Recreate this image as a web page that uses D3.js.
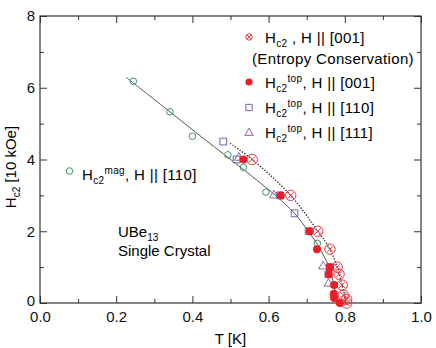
<!DOCTYPE html>
<html>
<head>
<meta charset="utf-8">
<script src="https://cdn.jsdelivr.net/npm/d3@7"></script>
<style>
  body { margin: 0; background: #fff; }
  svg { display: block; font-family: "Liberation Sans", Arial, sans-serif; }
</style>
</head>
<body>
<div id="chart"></div>
<script>
// tick values
const xMajor = [0, 0.2, 0.4, 0.6, 0.8, 1.0];
const xMinor = [0.1, 0.3, 0.5, 0.7, 0.9];
const yMajor = [0, 2, 4, 6, 8];
const yMinor = [1, 3, 5, 7];

// [T (K), Hc2 (10 kOe)]
const magH110 = [[0.245, 6.18], [0.341, 5.33], [0.400, 4.65], [0.493, 4.13], [0.534, 3.78], [0.593, 3.09], [0.728, 1.66]];
const entropyH001 = [[0.557, 4.00], [0.658, 3.00], [0.729, 2.00], [0.761, 1.50], [0.780, 1.00], [0.785, 0.80],
                     [0.793, 0.50], [0.796, 0.22], [0.805, 0.10], [0.805, 0.00]];
const topH001 = [[0.534, 4.00], [0.632, 3.00], [0.708, 2.00], [0.727, 1.50], [0.761, 1.00], [0.758, 0.80],
                 [0.772, 0.50], [0.771, 0.26], [0.772, 0.14], [0.787, 0.00]];
const topH110 = [[0.481, 4.50], [0.516, 4.00], [0.630, 3.00], [0.668, 2.50], [0.705, 2.00], [0.761, 1.00], [0.757, 0.80]];
const topH111 = [[0.522, 4.05], [0.614, 3.00], [0.743, 1.02], [0.757, 0.54]];

// guide curves
const solidCurve = [[0.226, 6.29], [0.341, 5.33], [0.430, 4.58], [0.534, 3.72], [0.620, 2.98], [0.668, 2.50],
                    [0.704, 2.00], [0.728, 1.64], [0.748, 1.25], [0.762, 0.92], [0.771, 0.50], [0.776, 0.20], [0.778, 0.00]];
const dottedCurve = [[0.499, 4.45], [0.557, 4.00], [0.658, 3.00], [0.729, 2.00], [0.761, 1.50], [0.780, 1.00],
                     [0.793, 0.50], [0.800, 0.20], [0.804, 0.00]];

const W = 436, H = 348;
const x = d3.scaleLinear().domain([0, 1]).range([40, 421]);
const y = d3.scaleLinear().domain([0, 8]).range([303, 16]);

const red = "#ee1c25", redOpen = "#f0353d", sqCol = "#6b64ac", triCol = "#9561a8", green = "#3d9466";

const svg = d3.select("#chart").append("svg")
    .attr("width", W)
    .attr("height", H);

// axes (ticks pointing inward, labels only on left/bottom)
function addAxis(axisFn, values, size, transform, labels) {
    const g = svg.append("g")
        .attr("transform", transform)
        .call(axisFn.tickValues(values).tickSizeInner(-size).tickSizeOuter(0)
            .tickFormat(labels || (() => "")));
    g.select(".domain").remove();
    g.selectAll("line").attr("stroke", "#333").attr("stroke-width", 1);
    g.selectAll("text").attr("fill", "#111").style("font-size", "15px");
    return g;
}

addAxis(d3.axisBottom(x).tickPadding(8.5), xMajor, 7, `translate(0,${y(0)})`, d3.format(".1f"));
addAxis(d3.axisBottom(x), xMinor, 4, `translate(0,${y(0)})`);
addAxis(d3.axisTop(x), xMajor, 7, `translate(0,${y(8)})`);
addAxis(d3.axisTop(x), xMinor, 4, `translate(0,${y(8)})`);
const left = addAxis(d3.axisLeft(y).tickPadding(5), yMajor, 7, `translate(${x(0)},0)`, d3.format("d"));
// lift the "0" a touch so it clears the "0.0" below it
left.selectAll(".tick text").filter(d => d === 0).attr("y", -2);
addAxis(d3.axisLeft(y), yMinor, 4, `translate(${x(0)},0)`);
addAxis(d3.axisRight(y), yMajor, 7, `translate(${x(1)},0)`);
addAxis(d3.axisRight(y), yMinor, 4, `translate(${x(1)},0)`);

svg.append("rect")
    .attr("x", x(0)).attr("y", y(8))
    .attr("width", x(1) - x(0)).attr("height", y(0) - y(8))
    .attr("fill", "none").attr("stroke", "#333").attr("stroke-width", 1.2);

// axis titles
svg.append("text")
    .attr("x", (x(0) + x(1)) / 2).attr("y", 343.5)
    .attr("text-anchor", "middle")
    .style("font-size", "15px")
    .text("T [K]");

const yTitle = svg.append("text")
    .attr("transform", "translate(15.5,167) rotate(-90)")
    .attr("text-anchor", "middle")
    .style("font-size", "15px");
yTitle.append("tspan").text("H");
yTitle.append("tspan").attr("dy", 4).style("font-size", "10px").text("c2");
yTitle.append("tspan").attr("dy", -4).text(" [10 kOe]");

// curves
const line = d3.line().x(d => x(d[0])).y(d => y(d[1])).curve(d3.curveCatmullRom);
svg.append("path").datum(solidCurve)
    .attr("d", line).attr("fill", "none").attr("stroke", "#555").attr("stroke-width", 1);
svg.append("path").datum(dottedCurve)
    .attr("d", line).attr("fill", "none").attr("stroke", "#222").attr("stroke-width", 1.3)
    .attr("stroke-dasharray", "1.3,1.6");

// marker painters
function openCircle(g, cx, cy, r, col) {
    g.append("circle").attr("cx", cx).attr("cy", cy).attr("r", r)
        .attr("fill", "none").attr("stroke", col).attr("stroke-width", 1);
}
function crossCircle(g, cx, cy, r) {
    openCircle(g, cx, cy, r, redOpen);
    const k = r * 0.6;
    g.append("path")
        .attr("d", `M${cx - k},${cy - k}L${cx + k},${cy + k}M${cx - k},${cy + k}L${cx + k},${cy - k}`)
        .attr("stroke", redOpen).attr("stroke-width", 1);
}
function dot(g, cx, cy, r) {
    g.append("circle").attr("cx", cx).attr("cy", cy).attr("r", r).attr("fill", red);
}
function sym(g, cx, cy, type, size, col) {
    g.append("path")
        .attr("d", d3.symbol().type(type).size(size)())
        .attr("transform", `translate(${cx},${cy})`)
        .attr("fill", "none").attr("stroke", col).attr("stroke-width", 1);
}

const marks = svg.append("g");
magH110.forEach(d => openCircle(marks, x(d[0]), y(d[1]), 3.3, green));
entropyH001.forEach(d => crossCircle(marks, x(d[0]), y(d[1]), 5.2));
topH110.forEach(d => sym(marks, x(d[0]), y(d[1]), d3.symbolSquare, 46, sqCol));
topH111.forEach(d => sym(marks, x(d[0]), y(d[1]), d3.symbolTriangle, 34, triCol));
topH001.forEach(d => dot(marks, x(d[0]), y(d[1]), 4));

// legend
const leg = svg.append("g").style("font-size", "15px").style("letter-spacing", "0.35px");
function legendLabel(lx, ly, sub, sup, rest) {
    const t = leg.append("text").attr("x", lx).attr("y", ly);
    t.append("tspan").text("H");
    t.append("tspan").attr("dy", 4).style("font-size", "10px").text(sub);
    if (sup) {
        t.append("tspan").attr("dy", -10).style("font-size", "10px").text(sup);
        t.append("tspan").attr("dy", 6).text(rest);
    } else {
        t.append("tspan").attr("dy", -4).text(rest);
    }
}

crossCircle(leg, 249, 37, 3.2);
legendLabel(265, 43, "c2", null, " , H || [001]");
leg.append("text").attr("x", 252).attr("y", 64).text("(Entropy Conservation)");
dot(leg, 249, 82, 3.5);
legendLabel(265, 88, "c2", "top", ", H || [001]");
sym(leg, 249, 107.5, d3.symbolSquare, 40, sqCol);
legendLabel(265, 113, "c2", "top", ", H || [110]");
sym(leg, 249, 133, d3.symbolTriangle, 30, triCol);
legendLabel(265, 138, "c2", "top", ", H || [111]");

openCircle(leg, 69.5, 171, 3.3, green);
legendLabel(82, 180, "c2", "mag", ", H || [110]");

// sample note
const note = svg.append("g").style("font-size", "15px");
const ube = note.append("text").attr("x", 118).attr("y", 236.5);
ube.append("tspan").text("UBe");
ube.append("tspan").attr("dy", 4).style("font-size", "10px").text("13");
note.append("text").attr("x", 118).attr("y", 256).text("Single Crystal");
</script>
</body>
</html>
